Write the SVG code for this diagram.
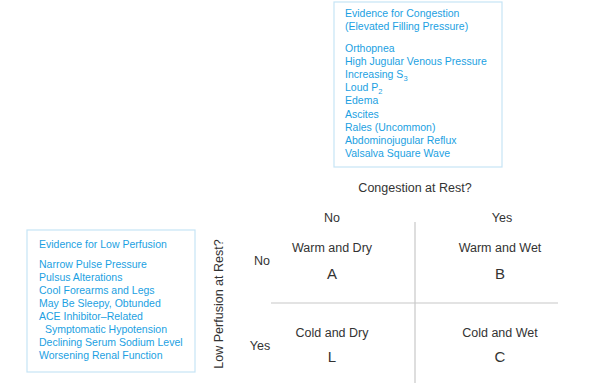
<svg xmlns="http://www.w3.org/2000/svg" width="590" height="385" viewBox="0 0 590 385">
<style>
.box{fill:#fff;stroke:#c6e4f6;stroke-width:1.2}
.bt{font-family:"Liberation Sans",Arial,sans-serif;font-size:10.5px;fill:#1b9fe2}
.lbl{font-family:"Liberation Sans",Arial,sans-serif;font-size:12.5px;fill:#333}
.big{font-family:"Liberation Sans",Arial,sans-serif;font-size:15px;fill:#333}
.grid{stroke:#c8c8c8;stroke-width:1.2}
.sub{font-size:7.5px}
</style>
<rect width="590" height="385" fill="#fff"/>
<g id="congestion-evidence">
<rect class="box" x="334" y="2" width="168" height="165"/>
<text class="bt" x="345" y="17">Evidence for Congestion</text>
<text class="bt" x="345" y="30">(Elevated Filling Pressure)</text>
<text class="bt" x="345" y="52">Orthopnea</text>
<text class="bt" x="345" y="65">High Jugular Venous Pressure</text>
<text class="bt" x="345" y="78">Increasing S<tspan class="sub" dy="3">3</tspan></text>
<text class="bt" x="345" y="91">Loud P<tspan class="sub" dy="3">2</tspan></text>
<text class="bt" x="345" y="104">Edema</text>
<text class="bt" x="345" y="118">Ascites</text>
<text class="bt" x="345" y="131">Rales (Uncommon)</text>
<text class="bt" x="345" y="144">Abdominojugular Reflux</text>
<text class="bt" x="345" y="157">Valsalva Square Wave</text>
</g>
<g id="perfusion-evidence">
<rect class="box" x="27" y="230" width="168" height="142"/>
<text class="bt" x="39" y="248">Evidence for Low Perfusion</text>
<text class="bt" x="39" y="268">Narrow Pulse Pressure</text>
<text class="bt" x="39" y="281">Pulsus Alterations</text>
<text class="bt" x="39" y="294">Cool Forearms and Legs</text>
<text class="bt" x="39" y="307">May Be Sleepy, Obtunded</text>
<text class="bt" x="39" y="320">ACE Inhibitor–Related</text>
<text class="bt" x="45" y="333">Symptomatic Hypotension</text>
<text class="bt" x="39" y="346">Declining Serum Sodium Level</text>
<text class="bt" x="39" y="359">Worsening Renal Function</text>
</g>
<g id="connectors">
<line class="grid" x1="415" y1="222" x2="415" y2="383"/>
<line class="grid" x1="271" y1="303" x2="558" y2="303"/>
</g>
<g id="axis-labels">
<text class="lbl" x="415" y="192" text-anchor="middle">Congestion at Rest?</text>
<text class="lbl" transform="translate(223,304) rotate(-90)" text-anchor="middle">Low Perfusion at Rest?</text>
<text class="lbl" x="332" y="222" text-anchor="middle">No</text>
<text class="lbl" x="502" y="222" text-anchor="middle">Yes</text>
<text class="lbl" x="262" y="265" text-anchor="middle">No</text>
<text class="lbl" x="260" y="350" text-anchor="middle">Yes</text>
</g>
<g id="quadrant-A">
<text class="lbl" x="332" y="252" text-anchor="middle">Warm and Dry</text>
<text class="big" x="332" y="279" text-anchor="middle">A</text>
</g>
<g id="quadrant-B">
<text class="lbl" x="500" y="252" text-anchor="middle">Warm and Wet</text>
<text class="big" x="500" y="279" text-anchor="middle">B</text>
</g>
<g id="quadrant-L">
<text class="lbl" x="332" y="337" text-anchor="middle">Cold and Dry</text>
<text class="big" x="332" y="362" text-anchor="middle">L</text>
</g>
<g id="quadrant-C">
<text class="lbl" x="500" y="337" text-anchor="middle">Cold and Wet</text>
<text class="big" x="500" y="362" text-anchor="middle">C</text>
</g>
</svg>
